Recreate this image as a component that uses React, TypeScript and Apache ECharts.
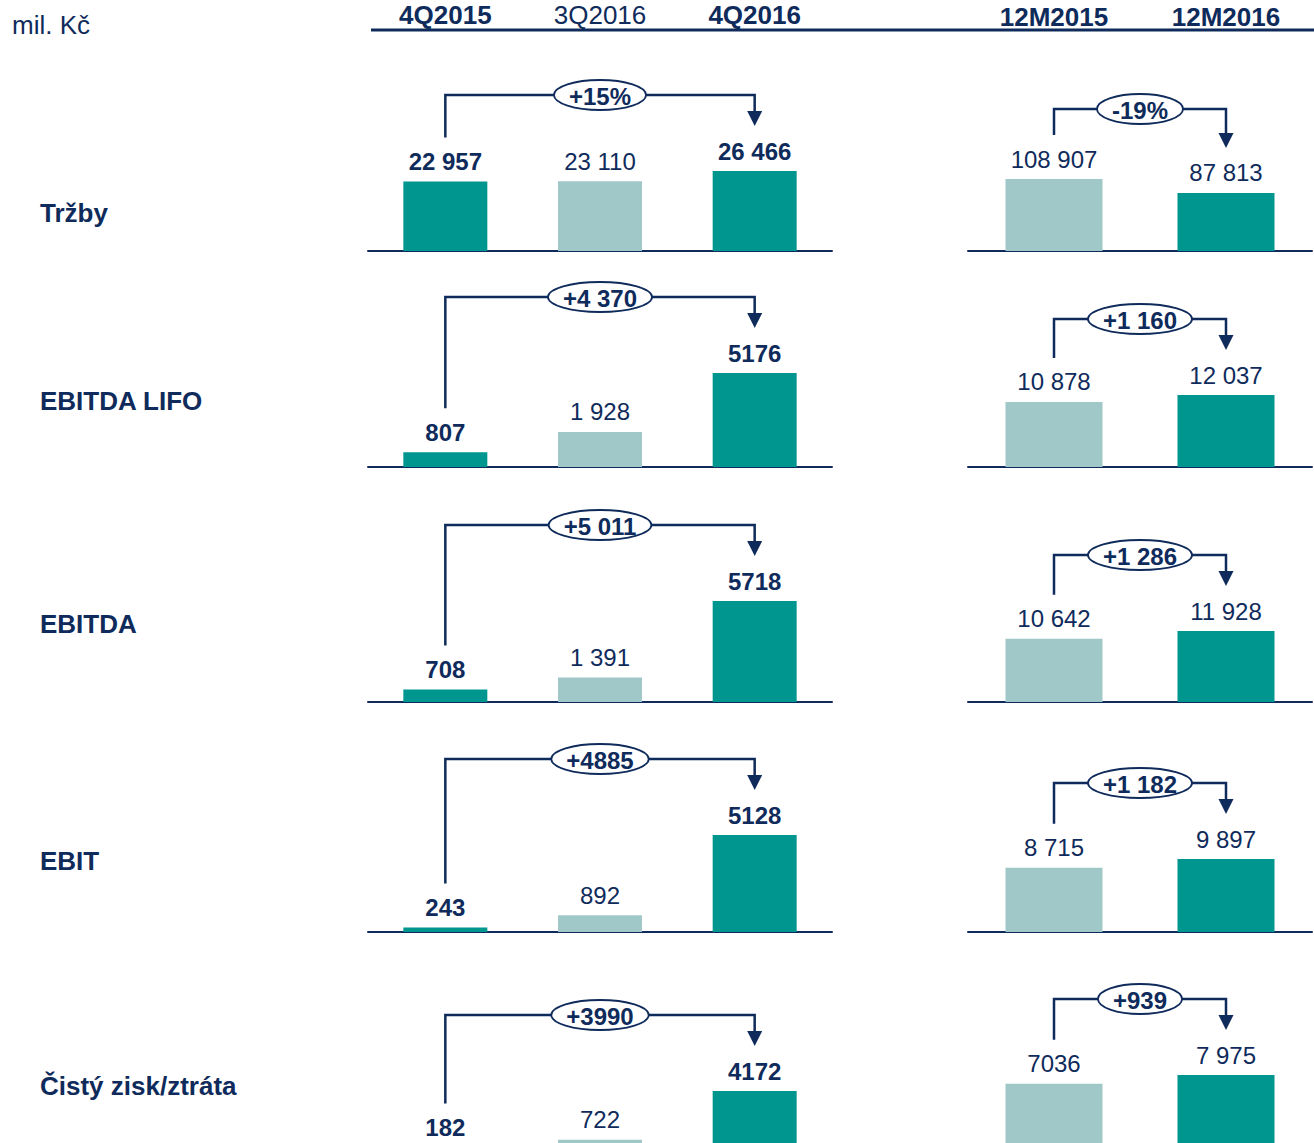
import React, { useEffect, useRef } from "react";
import * as echarts from "echarts";

// ---------- data ----------
const metrics = ["Tržby", "EBITDA LIFO", "EBITDA", "EBIT", "Čistý zisk/ztráta"];
const quarterCats = ["4Q2015", "3Q2016", "4Q2016"];
const yearCats = ["12M2015", "12M2016"];
const quarterValues = [
  [22957, 23110, 26466],
  [807, 1928, 5176],
  [708, 1391, 5718],
  [243, 892, 5128],
  [182, 722, 4172],
];
const quarterLabels = [
  ["22 957", "23 110", "26 466"],
  ["807", "1 928", "5176"],
  ["708", "1 391", "5718"],
  ["243", "892", "5128"],
  ["182", "722", "4172"],
];
const yearValues = [
  [108907, 87813],
  [10878, 12037],
  [10642, 11928],
  [8715, 9897],
  [7036, 7975],
];
const yearLabels = [
  ["108 907", "87 813"],
  ["10 878", "12 037"],
  ["10 642", "11 928"],
  ["8 715", "9 897"],
  ["7036", "7 975"],
];
const quarterChange = ["+15%", "+4 370", "+5 011", "+4885", "+3990"];
const yearChange = ["-19%", "+1 160", "+1 286", "+1 182", "+939"];
const unitLabel = "mil. Kč";

// ---------- layout / style ----------
const NAVY = "#0f2b5b";
const DARK = "#009690";
const LIGHT = "#a0c8c8";
const FONT = "'Liberation Sans', Arial, Helvetica, sans-serif";
const baselines = [251, 467, 702, 932, 1150];
const qTops = [171, 373, 601, 835, 1091];
const yTops = [179, 395, 631, 859, 1075];
const rowLabelY = [213, 401, 624, 861, 1086];
const qColors = [DARK, LIGHT, DARK];
const qBold = [true, false, true];
const yColors = [LIGHT, DARK];

function measure(text: string, font: string) {
  const c = document.createElement("canvas").getContext("2d");
  if (!c) return text.length * 13;
  c.font = font;
  return c.measureText(text).width;
}

export default function App() {
  const ref = useRef<HTMLDivElement>(null);
  useEffect(() => {
    if (!ref.current) return;
    const chart = echarts.init(ref.current, null, { renderer: "svg" });
    const grid: any[] = [];
    const xAxis: any[] = [];
    const yAxis: any[] = [];
    const series: any[] = [];
    for (let r = 0; r < 5; r++) {
      grid.push({ left: 368, width: 464, top: qTops[r], height: baselines[r] - qTops[r] });
      grid.push({ left: 968, width: 344, top: yTops[r], height: baselines[r] - yTops[r] });
      const panels = [
        { cats: quarterCats, vals: quarterValues[r], labs: quarterLabels[r], colors: qColors, bold: qBold, bw: 84 },
        { cats: yearCats, vals: yearValues[r], labs: yearLabels[r], colors: yColors, bold: [false, false], bw: 97 },
      ];
      panels.forEach((p, k) => {
        const g = r * 2 + k;
        xAxis.push({
          gridIndex: g,
          type: "category",
          data: p.cats,
          axisLine: { show: true, lineStyle: { color: NAVY, width: 2 } },
          axisTick: { show: false },
          axisLabel: { show: false },
          splitLine: { show: false },
        });
        yAxis.push({
          gridIndex: g,
          type: "value",
          min: 0,
          max: Math.max(...p.vals),
          show: false,
          splitLine: { show: false },
        });
        series.push({
          type: "bar",
          xAxisIndex: g,
          yAxisIndex: g,
          barWidth: p.bw,
          data: p.vals.map((v, i) => ({
            value: v,
            itemStyle: { color: p.colors[i] },
            label: { fontWeight: p.bold[i] ? "bold" : "normal" },
          })),
          label: {
            show: true,
            position: "top",
            distance: 8,
            lineHeight: 24,
            fontSize: 24,
            fontFamily: FONT,
            color: NAVY,
            formatter: (prm: any) => p.labs[prm.dataIndex],
          },
        });
      });
    }

    chart.setOption({
      animation: false,
      backgroundColor: "#ffffff",
      grid,
      xAxis,
      yAxis,
      series,
    });

    const els: any[] = [];
    const txt = (text: string, x: number, y: number, size: number, bold: boolean, align = "center") => ({
      type: "text",
      z: 20,
      style: {
        text,
        x,
        y,
        fill: NAVY,
        fontSize: size,
        fontWeight: bold ? "bold" : "normal",
        fontFamily: FONT,
        textAlign: align,
        textVerticalAlign: "middle",
        align,
        verticalAlign: "middle",
      },
    });
    els.push(txt(unitLabel, 12, 25, 26, false, "left"));
    els.push({
      type: "line",
      z: 10,
      shape: { x1: 371, y1: 30, x2: 1314, y2: 30 },
      style: { stroke: NAVY, lineWidth: 3 },
    });
    quarterCats.forEach((c, i) => {
      const pt = chart.convertToPixel({ seriesIndex: 0 }, [i, 0]) as number[];
      els.push(txt(c, pt[0], 15, 26, qBold[i]));
    });
    yearCats.forEach((c, i) => {
      const pt = chart.convertToPixel({ seriesIndex: 1 }, [i, 0]) as number[];
      els.push(txt(c, pt[0], 17, 26, true));
    });
    metrics.forEach((m, r) => {
      els.push(txt(m, 40, rowLabelY[r], 26, true, "left"));
    });

    const bracket = (sIdx: number, a: number, av: number, b: number, bv: number, label: string, topOffset: number) => {
      const pa = chart.convertToPixel({ seriesIndex: sIdx }, [a, av]) as number[];
      const pb = chart.convertToPixel({ seriesIndex: sIdx }, [b, bv]) as number[];
      const la = pa[1] - 20;
      const lb = pb[1] - 20;
      const top = Math.min(la, lb) - topOffset;
      const bottomA = la - 24;
      const tip = lb - 25;
      const ah = 15;
      els.push({
        type: "polyline",
        z: 15,
        shape: { points: [[pa[0], bottomA], [pa[0], top], [pb[0], top], [pb[0], tip - ah + 1]] },
        style: { stroke: NAVY, lineWidth: 2.5, fill: null },
      });
      els.push({
        type: "polygon",
        z: 15,
        shape: { points: [[pb[0] - 7.5, tip - ah], [pb[0] + 7.5, tip - ah], [pb[0], tip]] },
        style: { fill: NAVY },
      });
      const w = measure(label, `bold 24px ${FONT}`);
      const cx = (pa[0] + pb[0]) / 2;
      els.push({
        type: "ellipse",
        z: 16,
        shape: { cx, cy: top, rx: w / 2 + 15, ry: 15 },
        style: { fill: "#ffffff", stroke: NAVY, lineWidth: 1.8 },
      });
      els.push(txt(label, cx, top + 1, 24, true));
    };
    for (let r = 0; r < 5; r++) {
      bracket(r * 2, 0, quarterValues[r][0], 2, quarterValues[r][2], quarterChange[r], 56);
      bracket(r * 2 + 1, 0, yearValues[r][0], 1, yearValues[r][1], yearChange[r], r === 0 ? 50 : 56);
    }

    chart.setOption({ graphic: { elements: els } });
    return () => chart.dispose();
  }, []);

  return (
    <div style={{ position: "absolute", left: 0, top: 0, width: 1314, height: 1143, overflow: "hidden", background: "#fff" }}>
      <div ref={ref} style={{ width: 1314, height: 1160 }} />
    </div>
  );
}
